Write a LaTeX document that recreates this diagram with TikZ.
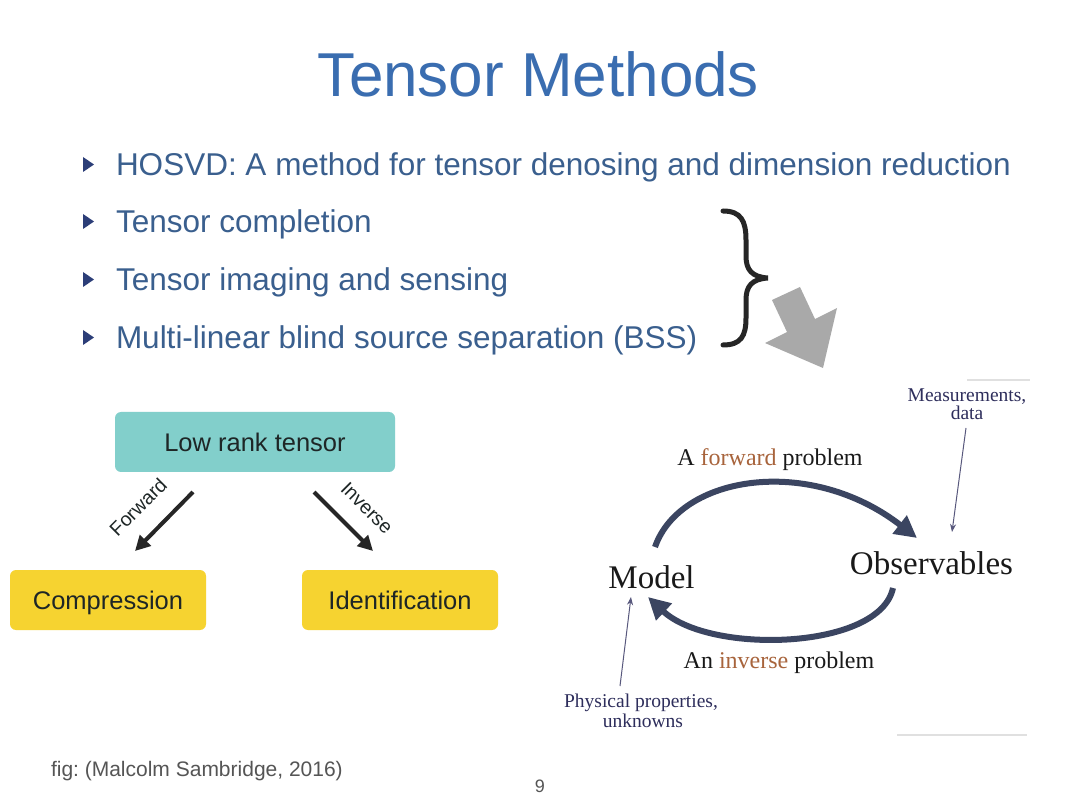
\documentclass[tikz,border=0pt]{standalone}
\usepackage{fontspec}
\setmainfont{Liberation Sans}
\newfontfamily\tms{Liberation Serif}
\usetikzlibrary{arrows.meta}
\frenchspacing
\definecolor{titleblue}{HTML}{3A6DB0}
\definecolor{bullettext}{HTML}{3A5F8E}
\definecolor{bulletmark}{HTML}{2C3E78}
\definecolor{boxteal}{HTML}{82CFCB}
\definecolor{boxyellow}{HTML}{F6D330}
\definecolor{arcnavy}{HTML}{3B4561}
\definecolor{probbrown}{HTML}{A8643C}
\definecolor{labnavy}{HTML}{2E2E5C}
\definecolor{darktext}{HTML}{1E2626}
\definecolor{footgray}{HTML}{555555}
\definecolor{biggray}{HTML}{A9A9A9}
\newcommand{\fsz}[1]{\fontsize{#1}{#1}\selectfont}
\tikzset{
  txt/.style={inner sep=0pt, outer sep=0pt},
  bullet/.style={txt, anchor=base west, text=bullettext, font=\fsz{31.5}},
  bmark/.style={fill=bulletmark},
  boxnode/.style={rounded corners=6pt, draw=none, text=darktext, font=\fsz{25.5}, minimum height=60pt, inner sep=0pt, text height=20pt, text depth=1.7pt},
  blkarrow/.style={draw=black!85, line width=4pt, -{Triangle[length=15pt,width=15pt]}},
  rotlab/.style={txt, text=darktext, font=\fsz{19.5}},
  serif/.style={txt, font=\tms\fsz{#1}, text=black!90},
  arcarr/.style={draw=arcnavy, line width=6pt, -{Triangle[length=22pt,width=22pt]}},
  thinarr/.style={draw=labnavy!80, line width=1pt, -{Stealth[length=8pt,width=6pt]}},
  navylab/.style={txt, anchor=base, font=\tms\fsz{19.5}, text=labnavy},
}
\begin{document}
\begin{tikzpicture}[x=1pt,y=-1pt]
\useasboundingbox[fill=white] (0,0) rectangle (1080,810);

% title
\node[txt, anchor=base, font=\fsz{62}, text=titleblue] (title) at (538.5,96.5) {Tensor Methods};

% bullets
\node[bullet] (b1) at (116,176) {HOSVD: A method for tensor denosing and dimension reduction};
\node[bullet] (b2) at (116,233) {Tensor completion};
\node[bullet] (b3) at (116,291) {Tensor imaging and sensing};
\node[bullet] (b4) at (116,349) {Multi-linear blind source separation (BSS)};
\foreach \yy in {176,233,291,349}{
  \fill[bmark] (83,\yy-19) -- (94,\yy-11.5) -- (83,\yy-4) -- cycle;
}

% brace
\draw[black!85, line width=5pt, line cap=round]
  (723,211) .. controls (741,211) and (746,221) .. (746,240) -- (746,256)
  .. controls (746,270) and (752,277) .. (768,278)
  .. controls (752,279) and (746,286) .. (746,300) -- (746,318)
  .. controls (746,336) and (741,345) .. (723,345);

% big gray arrow
\fill[biggray] (772,300) -- (800,287) -- (815,319) -- (837,308) -- (823,368) -- (765,343) -- (787,332) -- cycle;

% left diagram
\node[boxnode, fill=boxteal, minimum width=280pt] (lrt) at (255,442) {Low rank tensor};
\node[boxnode, fill=boxyellow, minimum width=196pt] (comp) at (108,600) {Compression};
\node[boxnode, fill=boxyellow, minimum width=196pt] (ident) at (400,600) {Identification};
\coordinate (fs) at (193,492);
\coordinate (fe) at (135,551);
\coordinate (is) at (314,492);
\coordinate (ie) at (373,551);
\draw[blkarrow] (fs) -- (fe);
\draw[blkarrow] (is) -- (ie);
\node[rotlab, rotate=45] (flab) at (138,507) {Forward};
\node[rotlab, rotate=-45] (ilab) at (367,508) {Inverse};

% right figure
\draw[black!12, line width=1.5pt] (967,380) -- (1030,380);
\draw[black!12, line width=1.5pt] (897,735) -- (1027,735);
\node[serif=33, anchor=base] (model) at (651.5,588) {Model};
\node[serif=33, anchor=base] (obs) at (931.5,574) {Observables};
\node[serif=24, anchor=base] (fwdlab) at (770,465) {A \textcolor{probbrown}{forward} problem};
\node[serif=24, anchor=base] (invlab) at (779,668) {An \textcolor{probbrown}{inverse} problem};
\coordinate (fa) at (655,547);
\coordinate (fb) at (917,538);
\coordinate (ia) at (893,588);
\coordinate (ib) at (648,597);
\draw[arcarr] (fa) .. controls (680,475) and (810,455) .. (fb);
\draw[arcarr] (ia) .. controls (880,650) and (710,655) .. (ib);
\node[navylab] (meas1) at (967,402) {Measurements,};
\node[navylab] (meas2) at (967,420) {data};
\node[navylab] (phys1) at (641,707) {Physical properties,};
\node[navylab] (phys2) at (643,727) {unknowns};
\coordinate (ms) at (966,428);
\coordinate (me) at (952,532);
\coordinate (ps) at (620,686);
\coordinate (pe) at (631,597);
\draw[thinarr] (ms) -- (me);
\draw[thinarr] (ps) -- (pe);

% footer
\node[txt, anchor=base west, font=\fsz{21}, text=footgray] (fig) at (51,776) {fig: (Malcolm Sambridge, 2016)};
\node[txt, anchor=base, font=\fsz{18}, text=footgray] (pnum) at (540,792) {9};
\end{tikzpicture}
\end{document}
